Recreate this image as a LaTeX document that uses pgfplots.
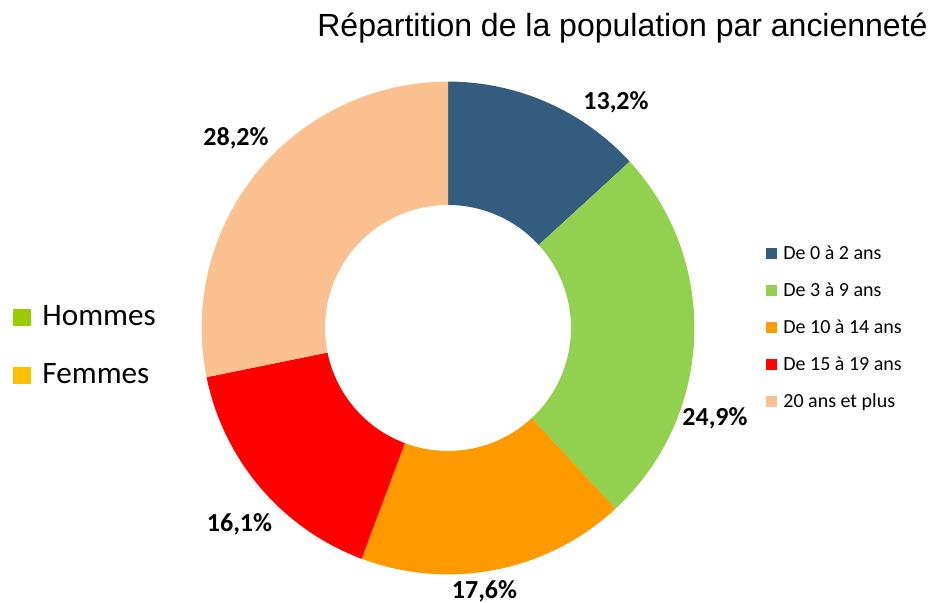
\documentclass[border=0pt]{standalone}
\usepackage{pgfplots}
\pgfplotsset{compat=1.18}
\usepackage{pgfplotstable}
\usepackage{fontspec}
\setmainfont{Carlito}
\newfontfamily\arialfont{Liberation Sans}
\definecolor{cA}{HTML}{335C7E}
\definecolor{cB}{HTML}{92D050}
\definecolor{cC}{HTML}{FF9900}
\definecolor{cD}{HTML}{FF0000}
\definecolor{cE}{HTML}{FAC090}
\definecolor{cH}{HTML}{99CC00}
\definecolor{cF}{HTML}{FFC000}
\newcommand{\labelfont}{\fontsize{13}{15}\selectfont\bfseries}
\newcommand{\legfont}{\fontsize{10}{12}\selectfont}
\pgfplotstableread[col sep=semicolon]{
value;lx;ly;color;name
13.2;616;110;cA;De 0 à 2 ans
24.9;715;426;cB;De 3 à 9 ans
17.6;484.5;599;cC;De 10 à 14 ans
16.1;239.5;532;cD;De 15 à 19 ans
28.2;236;146;cE;20 ans et plus
}\datatable
\begin{document}
\begin{tikzpicture}
\begin{axis}[
  x=0.5pt, y=0.5pt,
  xmin=0, xmax=933, ymin=0, ymax=603,
  hide axis, clip=false,
]
\path (axis cs:0,0) (axis cs:933,603);
\def\cum{0}
\pgfplotsforeachungrouped \i in {0,...,4} {
  \pgfplotstablegetelem{\i}{value}\of\datatable \let\v\pgfplotsretval
  \pgfplotstablegetelem{\i}{color}\of\datatable \let\col\pgfplotsretval
  \pgfplotstablegetelem{\i}{lx}\of\datatable \let\lx\pgfplotsretval
  \pgfplotstablegetelem{\i}{ly}\of\datatable \let\ly\pgfplotsretval
  \pgfplotstablegetelem{\i}{name}\of\datatable \let\nm\pgfplotsretval
  \pgfmathsetmacro{\aone}{90-3.6*\cum}
  \pgfmathsetmacro{\atwo}{90-3.6*(\cum+\v)}
  \pgfmathsetmacro{\aback}{\atwo+180}
  \pgfmathsetmacro{\cum}{\cum+\v}
  \pgfmathsetmacro{\lyy}{603-\ly}
  \pgfmathsetmacro{\legy}{603-(254+36.8*\i)}
  \pgfmathsetmacro{\legtext}{\legy-6}
  \edef\temp{%
    \noexpand\fill[\col] (axis cs:448,275) ++(\aone:123.2pt)
      arc[start angle=\aone, end angle=\atwo, radius=123.2pt]
      -- ++(\aback:61.7pt)
      arc[start angle=\atwo, end angle=\aone, radius=61.5pt] -- cycle;
    \noexpand\node[anchor=base, inner sep=0pt, font=\noexpand\labelfont] at (axis cs:\lx,\lyy)
      {\noexpand\pgfmathprintnumber[fixed, fixed zerofill, precision=1, use comma, assume math mode=true]{\v}\noexpand\%};
    \noexpand\fill[\col] (axis cs:766,\legy) ++(0pt,-2.75pt) rectangle ++(5.5pt,5.5pt);
    \noexpand\node[anchor=base west, inner sep=0pt, font=\noexpand\legfont] at (axis cs:783,\legtext) {\nm};
  }%
  \temp
}
% left legend
\fill[cH] (axis cs:13,277) rectangle (axis cs:31,294);
\node[anchor=base west, inner sep=0pt, font=\fontsize{15.6}{18}\selectfont] at (axis cs:42,277) {Hommes};
\fill[cF] (axis cs:13,219) rectangle (axis cs:31,236);
\node[anchor=base west, inner sep=0pt, font=\fontsize{15.6}{18}\selectfont] at (axis cs:42,219) {Femmes};
% title
\node[anchor=base east, inner sep=0pt, font=\arialfont\fontsize{16}{19}\selectfont] at (axis cs:928,566) {Répartition de la population par ancienneté};
\end{axis}
\end{tikzpicture}
\end{document}
